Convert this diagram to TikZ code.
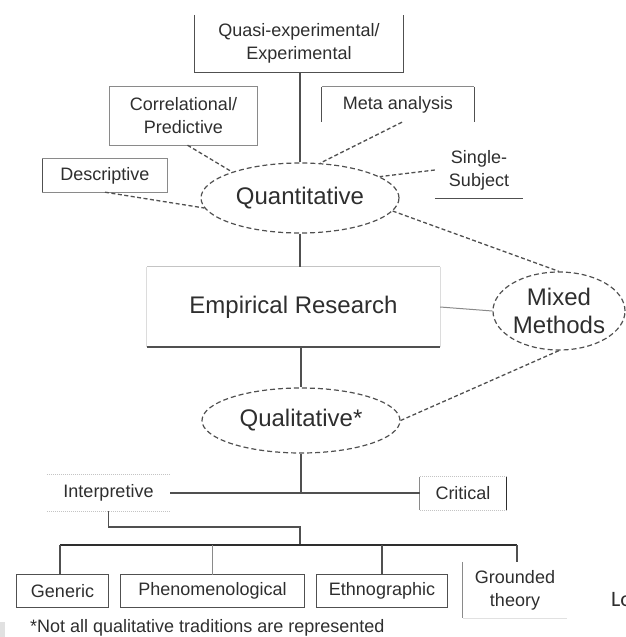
\documentclass[tikz,border=0pt]{standalone}
\usepackage{fontspec}
\setmainfont{Liberation Sans}
\newfontfamily\sidefont{Carlito}
\usetikzlibrary{shapes.geometric,calc}
\definecolor{ink}{HTML}{2E2E2E}
\definecolor{edge}{HTML}{505050}
\definecolor{mid}{HTML}{8A8A8A}
\definecolor{pale}{HTML}{C4C4C4}
\begin{document}
\begin{tikzpicture}[x=1pt,y=-1pt,
  small/.style={font=\fontsize{18}{23}\selectfont, text=ink, align=center, inner sep=0pt},
  big/.style={font=\fontsize{24}{28}\selectfont, text=ink, align=center, inner sep=0pt},
  oval/.style={ellipse, draw=edge, line width=1.2pt, dash pattern=on 5pt off 3pt, big},
  link/.style={draw=edge, line width=1.3pt},
  dlink/.style={draw=edge, line width=1.3pt, dash pattern=on 4pt off 2.5pt},
  frame/.style={draw=edge, line width=1.2pt},
  faint/.style={draw=pale, line width=1pt},
]
\useasboundingbox (0,0) rectangle (626,637);

% ---- upper tier: quantitative designs ----
\node[small, minimum width=209pt, minimum height=57pt] (qe) at (299,43.5) {Quasi-experimental/\\Experimental};
\draw[frame] (qe.north west) -- (qe.south west) -- (qe.south east) -- (qe.north east);

\node[small, minimum width=147pt, minimum height=58pt] (cp) at (183.5,116) {Correlational/\\Predictive};
\draw[frame, draw=mid] (cp.south west) rectangle (cp.north east);

\node[small, minimum width=152pt, minimum height=35pt] (ma) at (398,104.5) {Meta analysis};
\draw[frame, draw=mid] (ma.north west) -- (ma.north east);
\draw[frame] (ma.north west) -- (ma.south west);
\draw[frame] (ma.north east) -- (ma.south east);

\node[small, minimum width=124pt, minimum height=33pt] (ds) at (105,175.5) {Descriptive};
\draw[frame, draw=mid] (ds.south west) rectangle (ds.north east);
\draw[frame] (ds.south west) -- (ds.north west);

\node[small, minimum width=88pt, minimum height=56pt] (ss) at (479,170) {Single-\\Subject};
\draw[frame] (ss.south west) -- (ss.south east);

% ---- central column ----
\node[oval, minimum width=198pt, minimum height=70pt] (quant) at (300,198) {Quantitative};

\node[big, minimum width=293pt, minimum height=80pt] (er) at (293.5,307) {Empirical Research};
\draw[faint] (er.north west) -- (er.north east);
\draw[faint, draw=pale!60] (er.north west) -- (er.south west);
\draw[faint, draw=pale!60] (er.north east) -- (er.south east);
\draw[draw=edge, line width=2pt] (er.south west) -- (er.south east);

\node[oval, minimum width=132pt, minimum height=78pt] (mm) at (559,311) {Mixed\\Methods};

\node[oval, minimum width=198pt, minimum height=65pt] (qual) at (301,420.5) {Qualitative*};

% ---- qualitative branches ----
\node[small, minimum width=123pt, minimum height=36pt] (int) at (108.5,493) {Interpretive};
\draw[faint, densely dotted] (int.north west) -- (int.north east);
\draw[faint, densely dotted] (int.south west) -- (int.south east);

\node[small, minimum width=86pt, minimum height=33pt] (cr) at (463,493.5) {Critical};
\draw[faint, densely dotted] (cr.north west) -- (cr.north east);
\draw[faint, densely dotted] (cr.south west) -- (cr.south east);
\draw[faint, draw=mid] (cr.north west) -- (cr.south west);
\draw[frame, draw=ink] (cr.north east) -- (cr.south east);

\node[small, minimum width=91pt, minimum height=32pt] (ge) at (62.5,591) {Generic};
\draw[frame] (ge.south west) rectangle (ge.north east);
\node[small, minimum width=183pt, minimum height=32pt] (ph) at (212.5,591) {Phenomenological};
\draw[frame] (ph.south west) rectangle (ph.north east);
\node[small, minimum width=130pt, minimum height=32pt] (et) at (382,591) {Ethnographic};
\draw[frame] (et.south west) rectangle (et.north east);
\node[small, minimum width=104pt, minimum height=56pt] (gt) at (515,590) {Grounded\\theory};
\draw[faint, draw=mid] (gt.north west) -- (gt.south west);
\draw[faint, draw=pale!50] (gt.south west) -- (gt.south east);

\node[small, anchor=west] (foot) at (30,628) {*Not all qualitative traditions are represented};
\node[anchor=west, inner sep=0pt, text=ink, font=\sidefont\fontsize{22}{26}\selectfont] (lo) at (611,600) {Lo};
\fill[pale!50] (0,622) rectangle (5,637);

% ---- connectors ----
\draw[link] (qe.south -| quant.north) -- (quant.north);
\draw[dlink] (cp.south) ++(4,0) -- (quant.159);
\draw[dlink] (ds.south) -- (quant.186);
\draw[dlink] (ma.south) ++(4,0) -- (quant.60);
\draw[dlink] (ss.west) -- (quant.15);
\draw[dlink] (quant.-8) -- (mm.north);

\draw[link] (quant.south) -- (quant.south |- er.north);
\draw[link, draw=mid, line width=1pt] (er.east) -- (mm.west);
\draw[link] (qual.north |- er.south) -- (qual.north);
\draw[dlink] (qual.east) -- (mm.south);

\coordinate (j1) at (qual.south |- int.east);
\draw[link] (qual.south) -- (j1);
\draw[link] (int.east) -- (int.east -| cr.west);

\coordinate (k1) at (300,527);
\coordinate (hub) at (300,545);
\coordinate (barL) at (60,545);
\coordinate (barR) at (517,545);
\draw[link] (int.south) |- (k1) -- (hub);
\draw[draw=ink, line width=2pt] (barL) -- (barR);
\draw[link] (barL) -- (barL |- ge.north);
\draw[link, draw=mid, line width=0.9pt] (ph.north |- hub) -- (ph.north);
\draw[link] (et.north |- hub) -- (et.north);
\draw[link] (barR) -- (barR |- gt.north);
\end{tikzpicture}
\end{document}
